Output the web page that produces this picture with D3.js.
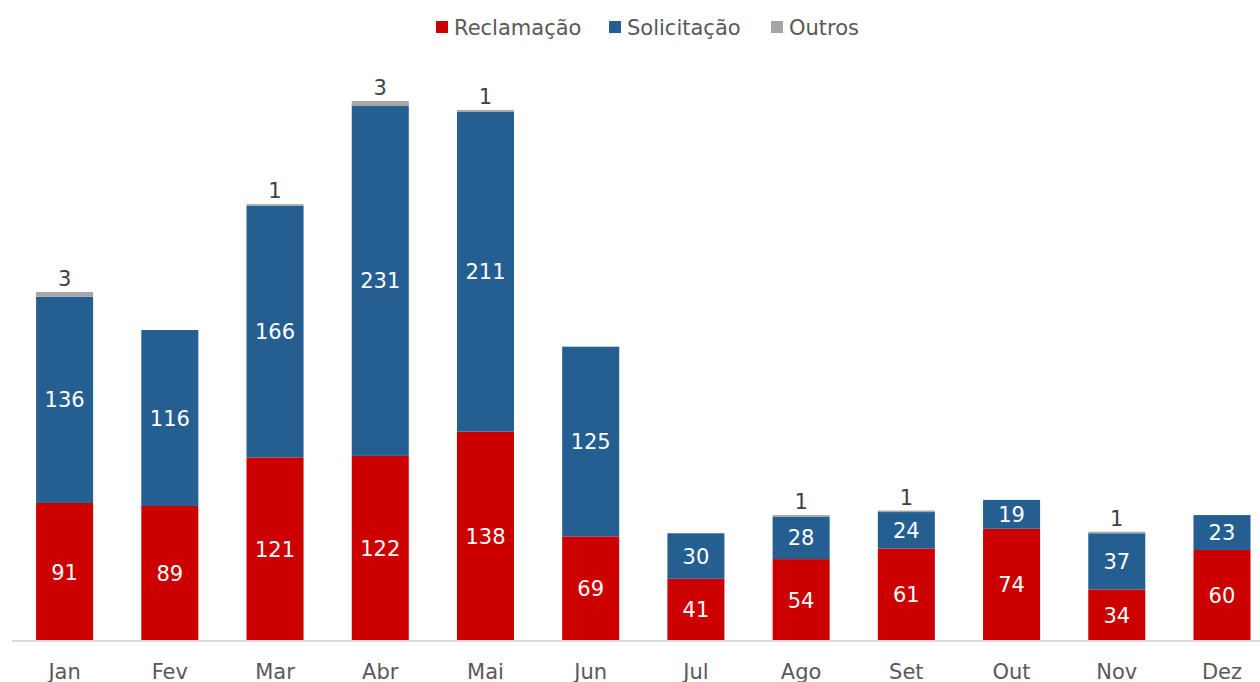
<!DOCTYPE html>
<html>
<head>
<meta charset="utf-8">
<script src="https://cdn.jsdelivr.net/npm/d3@7"></script>
<style>
  body { margin: 0; background: #fff; }
  svg text { font-family: "DejaVu Sans", sans-serif; }
</style>
</head>
<body>
<div id="chart"></div>
<script>
// data
let months = ["Jan", "Fev", "Mar", "Abr", "Mai", "Jun", "Jul", "Ago", "Set", "Out", "Nov", "Dez"];
let reclamacao = [91, 89, 121, 122, 138, 69, 41, 54, 61, 74, 34, 60];
let solicitacao = [136, 116, 166, 231, 211, 125, 30, 28, 24, 19, 37, 23];
let outros = [3, 0, 1, 3, 1, 0, 0, 1, 1, 0, 1, 0];
let seriesNames = ["Reclamação", "Solicitação", "Outros"];
let colors = ["#cc0000", "#255e91", "#a5a5a5"];

let width = 1260, height = 682;

let svg = d3.select("#chart").append("svg")
    .attr("width", width)
    .attr("height", height);

let rows = months.map((m, i) => ({month: m, r: reclamacao[i], s: solicitacao[i], o: outros[i]}));
let stack = d3.stack().keys(["r", "s", "o"]);
let layers = stack(rows);

let x = d3.scaleBand()
    .domain(months)
    .range([12, 1274.6])
    .paddingInner(0.458)
    .paddingOuter(0.229);

let y = d3.scaleLinear()
    .domain([0, 400])
    .range([641, 641 - 1.517 * 400]);

// bars
let groups = svg.selectAll("g.layer")
    .data(layers)
    .enter().append("g")
    .attr("class", "layer")
    .attr("fill", (d, i) => colors[i]);

groups.selectAll("rect")
    .data(d => d)
    .enter().append("rect")
    .attr("x", d => x(d.data.month))
    .attr("y", d => y(d[1]))
    .attr("width", x.bandwidth())
    .attr("height", d => y(d[0]) - y(d[1]));

// labels inside (red + blue)
layers.slice(0, 2).forEach(layer => {
    svg.append("g").selectAll("text")
        .data(layer)
        .enter().append("text")
        .attr("x", d => x(d.data.month) + x.bandwidth() / 2)
        .attr("y", d => (y(d[0]) + y(d[1])) / 2)
        .attr("dy", "0.36em")
        .attr("text-anchor", "middle")
        .attr("fill", "#fff")
        .attr("font-size", 21)
        .text(d => d[1] - d[0]);
});

// outros labels above
svg.append("g").selectAll("text")
    .data(layers[2].filter(d => d.data.o > 0))
    .enter().append("text")
    .attr("x", d => x(d.data.month) + x.bandwidth() / 2)
    .attr("y", d => y(d[1]) - 6)
    .attr("text-anchor", "middle")
    .attr("fill", "#404040")
    .attr("font-size", 21)
    .text(d => d.data.o);

// x axis
let xAxis = d3.axisBottom(x).tickSize(0).tickPadding(23);
let axisG = svg.append("g")
    .attr("transform", "translate(0," + y(0) + ")")
    .call(xAxis);
axisG.select(".domain").attr("stroke", "#d9d9d9").attr("stroke-width", 2)
    .attr("d", "M12,0H1260");
axisG.selectAll("text")
    .attr("font-size", 21)
    .attr("fill", "#595959");

// legend
let legendX = [436, 609, 771];
let legend = svg.append("g");
seriesNames.forEach((name, i) => {
    legend.append("rect")
        .attr("x", legendX[i]).attr("y", 21)
        .attr("width", 12).attr("height", 12)
        .attr("fill", colors[i]);
    legend.append("text")
        .attr("x", legendX[i] + 18).attr("y", 27)
        .attr("dy", "0.36em")
        .attr("font-size", 21)
        .attr("fill", "#595959")
        .text(name);
});
</script>
</body>
</html>
